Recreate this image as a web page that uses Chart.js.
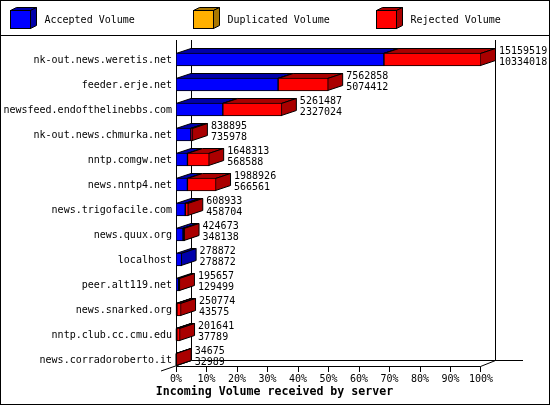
<!DOCTYPE html>
<html>
<head>
<meta charset="utf-8">
<title>Incoming Volume received by server</title>
<script src="https://cdn.jsdelivr.net/npm/chart.js@4/dist/chart.umd.min.js"></script>
<style>
	html, body { margin: 0; padding: 0; background: #fff; overflow: hidden; }
	canvas { display: block; }
</style>
</head>
<body>
<canvas id="chart" width="550" height="405"></canvas>
<script>
const servers = [
	"nk-out.news.weretis.net", "feeder.erje.net", "newsfeed.endofthelinebbs.com",
	"nk-out.news.chmurka.net", "nntp.comgw.net", "news.nntp4.net",
	"news.trigofacile.com", "news.quux.org", "localhost", "peer.alt119.net",
	"news.snarked.org", "nntp.club.cc.cmu.edu", "news.corradoroberto.it",
];
const totalVolume = [15159519, 7562858, 5261487, 838895, 1648313, 1988926, 608933, 424673, 278872, 195657, 250774, 201641, 34675];
const acceptedVolume = [10334018, 5074412, 2327024, 735978, 568588, 566561, 458704, 348138, 278872, 129499, 43575, 37789, 32989];
const duplicatedVolume = [0, 0, 0, 0, 0, 0, 0, 0, 0, 0, 0, 0, 0];
const rejectedVolume = [4825501, 2488446, 2934463, 102917, 1079725, 1422365, 150229, 76535, 0, 66158, 207199, 163852, 1686];
const percentTicks = [0, 10, 20, 30, 40, 50, 60, 70, 80, 90, 100];
const xTitle = "Incoming Volume received by server";

const FONT = '10px "DejaVu Sans Mono"';
const DEPTH_X = 15;
const DEPTH_Y = 5;
// a segment under 2px wide is all outline, no fill shows
const NARROW = (totalVolume[0] * 2) / 305;

function line(ctx, x1, y1, x2, y2) {
	ctx.beginPath();
	ctx.moveTo(x1, y1);
	ctx.lineTo(x2, y2);
	ctx.stroke();
}

function face(ctx, points, color) {
	ctx.beginPath();
	points.forEach((p, i) => (i === 0 ? ctx.moveTo(p[0], p[1]) : ctx.lineTo(p[0], p[1])));
	ctx.closePath();
	ctx.fillStyle = color;
	ctx.fill();
	ctx.stroke();
}

// depth faces of a box, the front comes from the bar itself
function depthFaces(ctx, left, right, top, bottom, dx, dy, color) {
	face(ctx, [[left, top], [left + dx, top - dy], [right + dx, top - dy], [right, top]], color);
	face(ctx, [[right, top], [right + dx, top - dy], [right + dx, bottom - dy], [right, bottom]], color);
}

const frame3d = {
	id: "frame3d",
	beforeDatasetsDraw(chart) {
		const ctx = chart.ctx;
		const x = chart.scales.x;
		const x0 = x.left + 0.5;
		const x100 = x.right - 0.5;
		const backBottom = 360.5;
		const frontBottom = 366.5;

		ctx.save();
		ctx.strokeStyle = "#000";
		ctx.lineWidth = 1;
		ctx.strokeRect(0.5, 0.5, 549, 404);
		line(ctx, 0, 35.5, 550, 35.5);

		// walls and floor
		line(ctx, x0, 40, x0, frontBottom);
		line(ctx, x0 + DEPTH_X, 40, x0 + DEPTH_X, backBottom);
		line(ctx, x100 + DEPTH_X, 40, x100 + DEPTH_X, backBottom);
		line(ctx, x0 + DEPTH_X, backBottom, 523, backBottom);
		line(ctx, x0, frontBottom, x100, frontBottom);
		line(ctx, 161, 371, x0 + DEPTH_X, backBottom);
		line(ctx, x100, frontBottom, x100 + DEPTH_X, backBottom);

		percentTicks.forEach((p) => {
			const px = Math.floor(x.getPixelForValue((totalVolume[0] * p) / 100)) + 0.5;
			line(ctx, Math.min(px, x100), frontBottom, Math.min(px, x100), 372);
		});

		// top and side of each segment, left to right
		chart.data.datasets.forEach((ds, d) => {
			chart.getDatasetMeta(d).data.forEach((bar, i) => {
				if (ds.data[i] === 0) return;
				const top = bar.y - bar.height / 2 + 0.5;
				const bottom = bar.y + bar.height / 2 - 0.5;
				depthFaces(ctx, bar.base, bar.x - 0.5, top, bottom, DEPTH_X, DEPTH_Y, ds.sideColor);
			});
		});
		ctx.restore();
	},
	afterDatasetsDraw(chart) {
		const ctx = chart.ctx;
		const x = chart.scales.x;
		const y = chart.scales.y;

		ctx.save();
		ctx.fillStyle = "#000";
		ctx.font = FONT;
		ctx.textAlign = "left";
		ctx.textBaseline = "middle";
		servers.forEach((s, i) => {
			const lx = x.getPixelForValue(totalVolume[i]) + DEPTH_X + 3;
			const ly = y.getPixelForValue(i);
			ctx.fillText(String(totalVolume[i]), lx, ly - 8.5);
			ctx.fillText(String(acceptedVolume[i]), lx, ly + 2.5);
		});

		// legend
		chart.data.datasets.forEach((ds, d) => {
			const bx = 10.5 + d * 183;
			ctx.strokeStyle = "#000";
			depthFaces(ctx, bx, bx + 20, 10.5, 28.5, 6, 3, ds.sideColor);
			ctx.fillStyle = ds.faceColor;
			ctx.fillRect(bx, 10.5, 20, 18);
			ctx.strokeRect(bx, 10.5, 20, 18);
			ctx.fillStyle = "#000";
			ctx.fillText(ds.label, bx + 34, 20.5);
		});

		ctx.font = 'bold 11.6px "DejaVu Sans Mono"';
		ctx.textAlign = "center";
		ctx.fillText(xTitle, 274.5, 392);
		ctx.restore();
	},
};

new Chart(document.getElementById("chart"), {
	type: "bar",
	data: {
		labels: servers,
		datasets: [
			{ label: "Accepted Volume", data: acceptedVolume, faceColor: "#0000ff", sideColor: "#0000aa" },
			{ label: "Duplicated Volume", data: duplicatedVolume, faceColor: "#ffb000", sideColor: "#aa7700" },
			{ label: "Rejected Volume", data: rejectedVolume, faceColor: "#ff0000", sideColor: "#aa0000" },
		].map((ds) => ({
			...ds,
			backgroundColor: (c) => (c.raw < NARROW ? "#000" : ds.faceColor),
			borderColor: "#000",
			borderWidth: 1,
			borderSkipped: false,
			barThickness: 13,
		})),
	},
	options: {
		indexAxis: "y",
		responsive: false,
		animation: false,
		devicePixelRatio: 1,
		layout: { autoPadding: false, padding: { top: 47, right: 69, left: 0, bottom: 0 } },
		plugins: { legend: { display: false }, title: { display: false }, tooltip: { enabled: false } },
		scales: {
			x: {
				stacked: true,
				min: 0,
				max: totalVolume[0],
				grid: { display: false, drawTicks: false },
				border: { display: false },
				afterBuildTicks: (scale) => {
					scale.ticks = percentTicks.map((p) => ({ value: (totalVolume[0] * p) / 100 }));
				},
				afterFit: (scale) => {
					scale.height = 33;
				},
				ticks: {
					color: "#000",
					font: { family: "DejaVu Sans Mono", size: 10 },
					padding: 1,
					autoSkip: false,
					maxRotation: 0,
					callback: (v, i) => percentTicks[i] + "%",
				},
			},
			y: {
				stacked: true,
				grid: { display: false, drawTicks: false },
				border: { display: false },
				afterFit: (scale) => {
					scale.width = 176;
				},
				ticks: {
					color: "#000",
					font: { family: "DejaVu Sans Mono", size: 10 },
					padding: 4,
					labelOffset: 1,
					autoSkip: false,
				},
			},
		},
	},
	plugins: [frame3d],
});
</script>
</body>
</html>
